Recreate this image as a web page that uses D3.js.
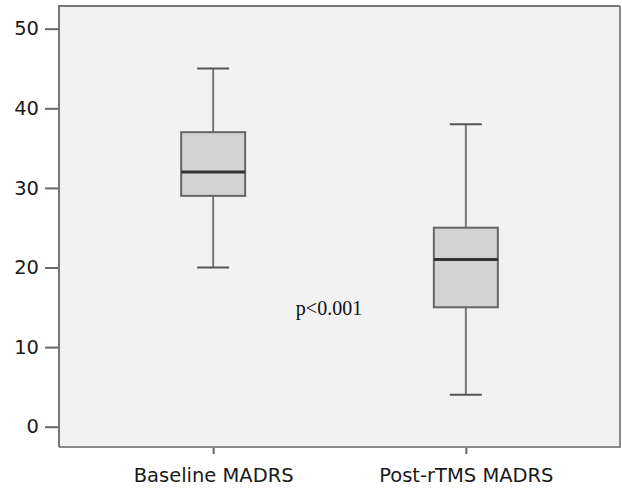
<!DOCTYPE html>
<html lang="en">
<head>
    <meta charset="UTF-8">
    <title>MADRS boxplot</title>
    <style>
        body { margin: 0; background: #fff; }
        .tick text { font-family: "DejaVu Sans", sans-serif; font-size: 19.5px; fill: #1a1a1a; }
        .tick line { stroke: #666; stroke-width: 2; }
        .domain { display: none; }
    </style>
</head>
<body>
    <div id="chart"></div>
    <script src="https://cdn.jsdelivr.net/npm/d3@7/dist/d3.min.js"></script>
    <script>
        var categories = ["Baseline MADRS", "Post-rTMS MADRS"];
        var whiskerLow = [20, 4];
        var q1 = [29, 15];
        var median = [32, 21];
        var q3 = [37, 25];
        var whiskerHigh = [45, 38];
        var yTicks = [0, 10, 20, 30, 40, 50];

        var boxes = categories.map(function(c, i) {
            return { name: c, lo: whiskerLow[i], q1: q1[i], med: median[i], q3: q3[i], hi: whiskerHigh[i] };
        });

        var width = 622, height = 488;
        var plotL = 59, plotR = 620, plotT = 6, plotB = 447;

        var svg = d3.select("#chart").append("svg")
            .attr("width", width)
            .attr("height", height);

        var x = d3.scalePoint()
            .domain(categories)
            .range([plotL, plotR])
            .padding(0.61);

        var y = d3.scaleLinear()
            .domain([0, 50])
            .range([426.7, 28.7]);

        // plot background
        svg.append("rect")
            .attr("x", plotL).attr("y", plotT)
            .attr("width", plotR - plotL).attr("height", plotB - plotT)
            .attr("fill", "#f2f2f2");

        // axes
        svg.append("g")
            .attr("transform", "translate(" + plotL + ",0)")
            .call(d3.axisLeft(y).tickValues(yTicks).tickSize(14).tickPadding(6));

        svg.append("g")
            .attr("transform", "translate(0," + plotB + ")")
            .call(d3.axisBottom(x).tickSize(7).tickPadding(14));

        // frame
        svg.append("path")
            .attr("d", "M" + plotL + "," + plotB + "V" + plotT + "H" + plotR)
            .attr("fill", "none").attr("stroke", "#777").attr("stroke-width", 2);
        svg.append("path")
            .attr("d", "M" + plotL + "," + plotB + "H" + plotR + "V" + plotT)
            .attr("fill", "none").attr("stroke", "#888").attr("stroke-width", 2);

        var boxW = 64, capW = 32;

        var g = svg.append("g").selectAll("g")
            .data(boxes)
            .enter().append("g");

        // whiskers
        g.append("line")
            .attr("x1", d => x(d.name)).attr("x2", d => x(d.name))
            .attr("y1", d => y(d.hi)).attr("y2", d => y(d.q3))
            .attr("stroke", "#777").attr("stroke-width", 2);
        g.append("line")
            .attr("x1", d => x(d.name)).attr("x2", d => x(d.name))
            .attr("y1", d => y(d.q1)).attr("y2", d => y(d.lo))
            .attr("stroke", "#777").attr("stroke-width", 2);

        // caps
        g.append("line")
            .attr("x1", d => x(d.name) - capW / 2).attr("x2", d => x(d.name) + capW / 2)
            .attr("y1", d => y(d.hi)).attr("y2", d => y(d.hi))
            .attr("stroke", "#555").attr("stroke-width", 2);
        g.append("line")
            .attr("x1", d => x(d.name) - capW / 2).attr("x2", d => x(d.name) + capW / 2)
            .attr("y1", d => y(d.lo)).attr("y2", d => y(d.lo))
            .attr("stroke", "#555").attr("stroke-width", 2);

        // boxes
        g.append("rect")
            .attr("x", d => x(d.name) - boxW / 2)
            .attr("y", d => y(d.q3))
            .attr("width", boxW)
            .attr("height", d => y(d.q1) - y(d.q3))
            .attr("fill", "#d3d3d3")
            .attr("stroke", "#666").attr("stroke-width", 2);

        // medians
        g.append("line")
            .attr("x1", d => x(d.name) - boxW / 2).attr("x2", d => x(d.name) + boxW / 2)
            .attr("y1", d => y(d.med)).attr("y2", d => y(d.med))
            .attr("stroke", "#333").attr("stroke-width", 3);

        svg.append("text")
            .attr("x", 329).attr("y", y(14.0))
            .attr("text-anchor", "middle")
            .attr("font-family", "'Liberation Serif', serif")
            .attr("font-size", 20)
            .attr("fill", "#111")
            .text("p<0.001");
    </script>
</body>
</html>
